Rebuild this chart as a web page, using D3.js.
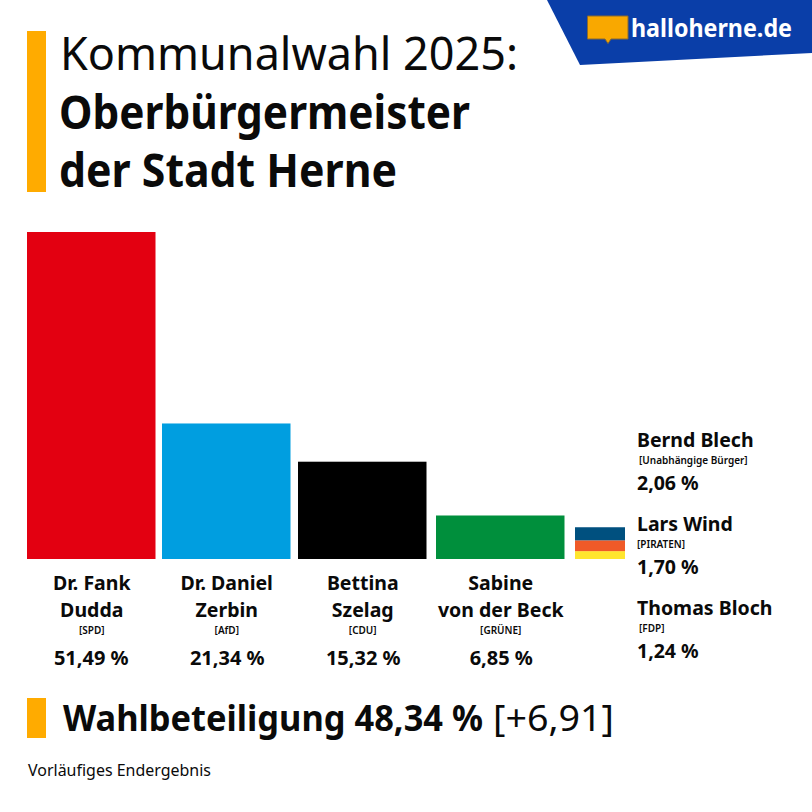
<!DOCTYPE html>
<html>
<head>
<meta charset="utf-8">
<script src="https://cdn.jsdelivr.net/npm/d3@7"></script>
<style>
  html, body { margin: 0; padding: 0; background: #fff; }
  svg { display: block; }
  text { font-family: 'Noto Sans', sans-serif; fill: #0a0a0a; }
</style>
</head>
<body>
<script>
// main candidates
var names = [['Dr. Fank', 'Dudda'], ['Dr. Daniel', 'Zerbin'], ['Bettina', 'Szelag'], ['Sabine', 'von der Beck']];
var parties = ['SPD', 'AfD', 'CDU', 'GRÜNE'];
var shares = [51.49, 21.34, 15.32, 6.85];
var colors = ['#e30011', '#009ee0', '#000000', '#008f3c'];

// the three small ones, stacked in one bar
var smallNames = ['Bernd Blech', 'Lars Wind', 'Thomas Bloch'];
var smallParties = ['Unabhängige Bürger', 'PIRATEN', 'FDP'];
var smallShares = [2.06, 1.70, 1.24];
var smallColors = ['#00507f', '#f05a28', '#ffe62e'];

var turnout = 48.34;
var turnoutChange = 6.91;

var fmt = function(v) { return v.toFixed(2).replace('.', ',') + ' %'; };

var svg = d3.select('body').append('svg')
  .attr('width', 812)
  .attr('height', 812);

var orange = '#ffab00';

// header
svg.append('rect').attr('x', 27).attr('y', 31).attr('width', 19).attr('height', 161).attr('fill', orange);
svg.append('text').attr('x', 60).attr('y', 70).attr('font-size', 46).attr('textLength', 458).attr('lengthAdjust', 'spacingAndGlyphs').text('Kommunalwahl 2025:');
svg.append('text').attr('x', 59).attr('y', 129).attr('font-size', 46).attr('font-weight', 700).attr('textLength', 411).attr('lengthAdjust', 'spacingAndGlyphs').text('Oberbürgermeister');
svg.append('text').attr('x', 59).attr('y', 187).attr('font-size', 46).attr('font-weight', 700).attr('textLength', 338).attr('lengthAdjust', 'spacingAndGlyphs').text('der Stadt Herne');

// logo
svg.append('path').attr('d', 'M547,0 L812,0 L812,53 L580,65 Z').attr('fill', '#0a3ea8');
svg.append('path')
  .attr('d', 'M587.5,16 H628 V39 H611 L608,43.5 L605,39 H587.5 Z')
  .attr('fill', '#f9a800')
  .attr('stroke', '#8a6a30')
  .attr('stroke-width', 1);
svg.append('text').attr('x', 631).attr('y', 36.5).attr('font-size', 25).attr('font-weight', 700)
  .attr('textLength', 161).attr('lengthAdjust', 'spacingAndGlyphs')
  .style('fill', '#fff').text('halloherne.de');

// scales
var baseline = 559;
var y = d3.scaleLinear().domain([0, 51.49]).range([baseline, 232]);
var x = d3.scaleOrdinal().domain(d3.range(5)).range([27, 162, 298, 436, 575]);
var barW = 128.5;
var smallW = 50;

svg.selectAll('.bar').data(shares).enter().append('rect')
  .attr('class', 'bar')
  .attr('x', function(d, i) { return x(i); })
  .attr('y', function(d) { return y(d); })
  .attr('width', barW)
  .attr('height', function(d) { return baseline - y(d); })
  .attr('fill', function(d, i) { return colors[i]; });

// stacked bar, first series on top
var row = {};
smallNames.forEach(function(n, i) { row[n] = smallShares[i]; });
var stack = d3.stack().keys(smallNames.slice().reverse())([row]);
svg.selectAll('.small').data(stack).enter().append('rect')
  .attr('class', 'small')
  .attr('x', x(4))
  .attr('y', function(s) { return y(s[0][1]); })
  .attr('width', smallW)
  .attr('height', function(s) { return y(s[0][0]) - y(s[0][1]); })
  .attr('fill', function(s) { return smallColors[smallNames.indexOf(s.key)]; });

// labels under bars
var labels = svg.selectAll('.lab').data(shares).enter().append('g')
  .attr('class', 'lab')
  .attr('transform', function(d, i) { return 'translate(' + (x(i) + barW / 2) + ',0)'; })
  .attr('text-anchor', 'middle');
labels.append('text').attr('y', 590).attr('x', 0.5).attr('font-size', 19.5).attr('font-weight', 700).text(function(d, i) { return names[i][0]; });
labels.append('text').attr('y', 617).attr('x', 0.5).attr('font-size', 19.5).attr('font-weight', 700).text(function(d, i) { return names[i][1]; });
labels.append('text').attr('y', 634).attr('x', 0.5).attr('font-size', 10).attr('font-weight', 600).text(function(d, i) { return '[' + parties[i] + ']'; });
labels.append('text').attr('y', 665).attr('x', function(d, i) { return i === 0 ? 0 : 1; }).attr('font-size', 20).attr('font-weight', 700).text(function(d) { return fmt(d); });

// side list
var side = svg.selectAll('.side').data(smallShares).enter().append('g')
  .attr('class', 'side')
  .attr('transform', function(d, i) { return 'translate(637,' + (i * 84) + ')'; });
side.append('text').attr('y', 447).attr('font-size', 19.5).attr('font-weight', 700).text(function(d, i) { return smallNames[i]; });
side.append('text').attr('x', function(d, i) { return i === 1 ? 0 : 2; }).attr('y', 464).attr('font-size', 10).attr('font-weight', 600).text(function(d, i) { return '[' + smallParties[i] + ']'; });
side.append('text').attr('y', 490).attr('font-size', 19.5).attr('font-weight', 700).text(function(d) { return fmt(d); });

// turnout
svg.append('rect').attr('x', 27).attr('y', 698).attr('width', 19).attr('height', 40).attr('fill', orange);
svg.append('text').attr('x', 63).attr('y', 731).attr('font-size', 35.5).attr('font-weight', 700)
  .attr('textLength', 420).attr('lengthAdjust', 'spacingAndGlyphs')
  .text('Wahlbeteiligung ' + fmt(turnout));
svg.append('text').attr('x', 493).attr('y', 731).attr('font-size', 35.5)
  .attr('textLength', 121).attr('lengthAdjust', 'spacingAndGlyphs')
  .text('[+' + turnoutChange.toFixed(2).replace('.', ',') + ']');

svg.append('text').attr('x', 28).attr('y', 776).attr('font-size', 16).attr('textLength', 183).attr('lengthAdjust', 'spacingAndGlyphs').text('Vorläufiges Endergebnis');
</script>
</body>
</html>
